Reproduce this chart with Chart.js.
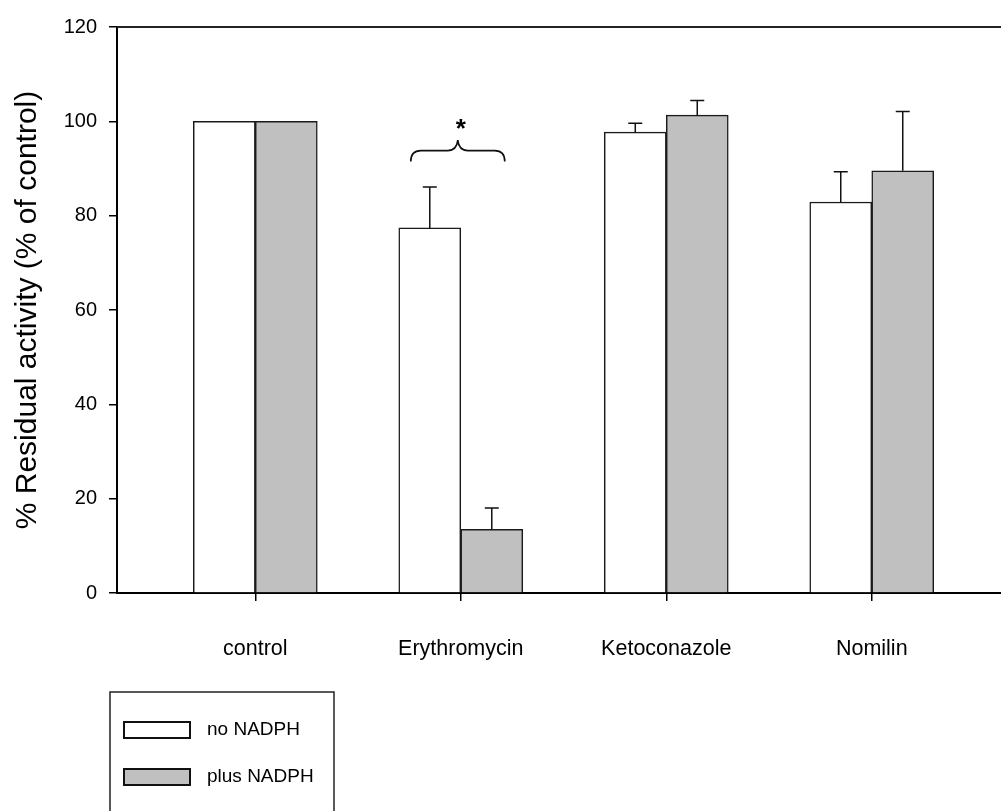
<!DOCTYPE html>
<html>
<head>
<meta charset="utf-8">
<title>Residual activity</title>
<script src="https://cdn.jsdelivr.net/npm/chart.js@4/dist/chart.umd.min.js"></script>
<style>
  html, body { margin: 0; padding: 0; background: #fff; }
</style>
</head>
<body>
<canvas id="chart" width="1001" height="811"></canvas>
<script>
// values (% of control), mean and SD
const categories = ["control", "Erythromycin", "Ketoconazole", "Nomilin"];
const noNadph = [100, 77.4, 97.7, 82.9];
const noNadphSd = [0, 8.7, 1.9, 6.4];
const plusNadph = [100, 13.5, 101.3, 89.5];
const plusNadphSd = [0, 4.5, 3.1, 12.6];
const yTicks = [0, 20, 40, 60, 80, 100, 120];

const FONT = "'Liberation Sans', Arial, sans-serif";

function points(values) {
  return values.map((v, i) => ({ x: i + 1, y: v }));
}

// upper error bars with caps
const errorBars = {
  id: "errorBars",
  afterDatasetsDraw(chart) {
    const ctx = chart.ctx;
    const y = chart.scales.y;
    ctx.save();
    ctx.strokeStyle = "#111";
    ctx.lineWidth = 1.5;
    chart.data.datasets.forEach((ds, di) => {
      chart.getDatasetMeta(di).data.forEach((bar, i) => {
        const sd = ds.sd[i];
        if (!sd) return;
        const top = y.getPixelForValue(ds.data[i].y + sd);
        ctx.beginPath();
        ctx.moveTo(bar.x, bar.y);
        ctx.lineTo(bar.x, top);
        ctx.moveTo(bar.x - 7, top);
        ctx.lineTo(bar.x + 7, top);
        ctx.stroke();
      });
    });
    ctx.restore();
  }
};

// top frame line, brace + asterisk over Erythromycin
const extras = {
  id: "extras",
  afterDraw(chart) {
    const ctx = chart.ctx;
    const a = chart.chartArea;
    const x = chart.scales.x, y = chart.scales.y;
    ctx.save();
    ctx.strokeStyle = "#222";
    ctx.lineWidth = 2;
    ctx.beginPath();
    ctx.moveTo(a.left, a.top);
    ctx.lineTo(a.right, a.top);
    ctx.stroke();

    // curly brace
    const cx = x.getPixelForValue(2) - 3;
    const L = cx - 47, R = cx + 47;
    const tip = y.getPixelForValue(91.5);
    const mid = y.getPixelForValue(93.8);
    const peak = y.getPixelForValue(96);
    ctx.strokeStyle = "#111";
    ctx.lineWidth = 1.6;
    ctx.beginPath();
    ctx.moveTo(L, tip);
    ctx.quadraticCurveTo(L, mid, L + 10, mid);
    ctx.lineTo(cx - 10, mid);
    ctx.quadraticCurveTo(cx - 1, mid, cx, peak);
    ctx.quadraticCurveTo(cx + 1, mid, cx + 10, mid);
    ctx.lineTo(R - 10, mid);
    ctx.quadraticCurveTo(R, mid, R, tip);
    ctx.stroke();

    // asterisk
    ctx.fillStyle = "#000";
    ctx.font = "bold 26px " + FONT;
    ctx.textAlign = "center";
    ctx.textBaseline = "alphabetic";
    const m = ctx.measureText("*");
    const cy = y.getPixelForValue(99.4);
    const base = cy + (m.actualBoundingBoxAscent - m.actualBoundingBoxDescent) / 2;
    ctx.fillText("*", x.getPixelForValue(2), base);
    ctx.restore();
  }
};

// boxed legend below the axis
const boxLegend = {
  id: "boxLegend",
  afterDraw(chart) {
    const ctx = chart.ctx;
    ctx.save();
    ctx.strokeStyle = "#222";
    ctx.lineWidth = 1.5;
    ctx.strokeRect(110, 692, 224, 140);
    ctx.font = "19px " + FONT;
    ctx.textAlign = "left";
    ctx.textBaseline = "middle";
    chart.data.datasets.forEach((ds, i) => {
      const top = 722 + i * 47;
      ctx.fillStyle = ds.backgroundColor;
      ctx.fillRect(124, top, 66, 16);
      ctx.strokeStyle = "#111";
      ctx.lineWidth = 2;
      ctx.strokeRect(124, top, 66, 16);
      ctx.fillStyle = "#000";
      ctx.fillText(ds.label, 207, top + 8);
    });
    ctx.restore();
  }
};

new Chart(document.getElementById("chart"), {
  type: "bar",
  data: {
    datasets: [
      {
        label: "no NADPH",
        data: points(noNadph),
        sd: noNadphSd,
        backgroundColor: "#ffffff",
        borderColor: "#1a1a1a",
        borderWidth: 1.5,
        barThickness: 62
      },
      {
        label: "plus NADPH",
        data: points(plusNadph),
        sd: plusNadphSd,
        backgroundColor: "#c0c0c0",
        borderColor: "#1a1a1a",
        borderWidth: 1.5,
        barThickness: 62
      }
    ]
  },
  options: {
    responsive: false,
    animation: false,
    layout: { padding: { top: 27, right: 0, bottom: 0, left: 0 } },
    plugins: {
      legend: { display: false },
      tooltip: { enabled: false }
    },
    scales: {
      x: {
        type: "linear",
        min: 0.327,
        max: 4.629,
        offset: false,
        afterBuildTicks: s => { s.ticks = categories.map((c, i) => ({ value: i + 1 })); },
        afterFit: s => { s.height = 218; },
        ticks: {
          callback: v => categories[v - 1],
          color: "#000",
          font: { size: 21.5, family: FONT },
          padding: 35,
          maxRotation: 0,
          autoSkip: false
        },
        grid: { drawOnChartArea: false, offset: false, tickLength: 8, color: "#000", lineWidth: 1.5 },
        border: { color: "#000", width: 2 }
      },
      y: {
        min: 0,
        max: 120,
        afterBuildTicks: s => { s.ticks = yTicks.map(v => ({ value: v })); },
        afterFit: s => { s.width = 117; },
        ticks: { color: "#000", font: { size: 20, family: FONT }, padding: 12 },
        grid: { drawOnChartArea: false, tickLength: 8, color: "#000", lineWidth: 1.5 },
        border: { color: "#000", width: 2 },
        title: {
          display: true,
          text: "% Residual activity (% of control)",
          color: "#000",
          font: { size: 30, family: FONT },
          padding: { top: 10, bottom: 0 }
        }
      }
    }
  },
  plugins: [errorBars, extras, boxLegend]
});
</script>
</body>
</html>
